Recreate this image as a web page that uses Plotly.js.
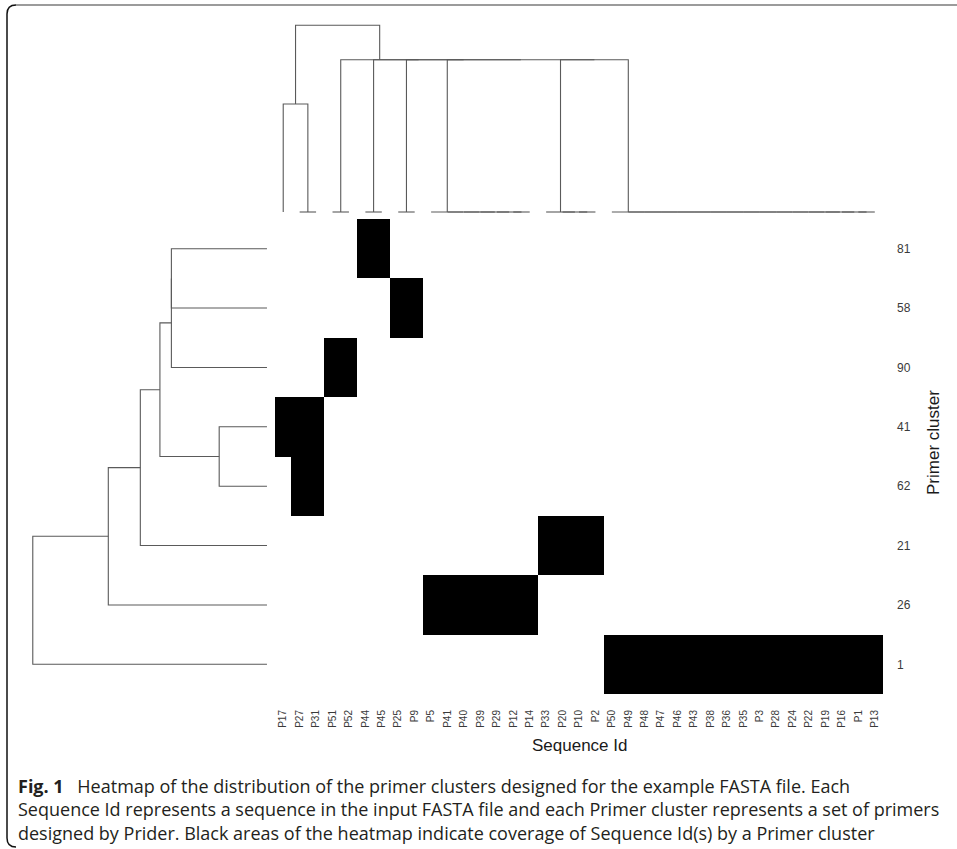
<!DOCTYPE html>
<html>
<head>
<meta charset="utf-8">
<script src="https://cdn.plot.ly/plotly-3.0.1.min.js"></script>
<style>
  html, body { margin: 0; padding: 0; background: #ffffff; }
  #chart { width: 957px; height: 849px; }
</style>
</head>
<body>
<div id="chart"></div>
<script>
// ---------------- DATA ----------------
const sequenceIds = ['P17','P27','P31','P51','P52','P44','P45','P25','P9','P5','P41','P40','P39','P29','P12','P14','P33','P20','P10','P2',
  'P50','P49','P48','P47','P46','P43','P38','P36','P35','P3','P28','P24','P22','P19','P16','P1','P13'];
const primerClusters = ['81','58','90','41','62','21','26','1'];

// Sequences covered by each primer cluster (black cells)
const cov81 = ['P44','P45'];
const cov58 = ['P25','P9'];
const cov90 = ['P51','P52'];
const cov41 = ['P17','P27','P31'];
const cov62 = ['P27','P31'];
const cov21 = ['P33','P20','P10','P2'];
const cov26 = ['P5','P41','P40','P39','P29','P12','P14'];
const cov1  = ['P50','P49','P48','P47','P46','P43','P38','P36','P35','P3','P28','P24','P22','P19','P16','P1','P13'];
const coverageRows = [cov81, cov58, cov90, cov41, cov62, cov21, cov26, cov1];

// Row dendrogram (primer clusters): merge k joins left[k] and right[k] at height[k]; 'mK' = result of merge K
const rowLinkLeft   = ['81','m0','41','m1','m3','m4','m5'];
const rowLinkRight  = ['58','90','62','m2','21','26','1'];
const rowLinkHeight = [2.00, 2.00, 1.00, 2.24, 2.65, 3.32, 4.90];

// Column dendrogram (sequence ids)
const colLinkLeft  = ['P27','P17','P51','P44','P25','P12','P29','P39','P40','P41','P5','P10','P20','P33',
  'P1','P16','P19','P22','P24','P28','P3','P35','P36','P38','P43','P46','P47','P48','P49','P50',
  'm13','m10','m4','m3','m2','m1'];
const colLinkRight = ['P31','m0','P52','P45','P9','P14','m5','m6','m7','m8','m9','P2','m11','m12',
  'P13','m14','m15','m16','m17','m18','m19','m20','m21','m22','m23','m24','m25','m26','m27','m28',
  'm29','m30','m31','m32','m33','m34'];
const colLinkHeight = [0, 1.00, 0, 0, 0, 0, 0, 0, 0, 0, 0, 0, 0, 0,
  0, 0, 0, 0, 0, 0, 0, 0, 0, 0, 0, 0, 0, 0, 0, 0,
  1.41, 1.41, 1.41, 1.41, 1.41, 1.73];

// Caption lines
const captionLines = [
  '<b>Fig. 1</b>\u2002 Heatmap of the distribution of the primer clusters designed for the example FASTA file. Each',
  'Sequence Id represents a sequence in the input FASTA file and each Primer cluster represents a set of primers',
  'designed by Prider. Black areas of the heatmap indicate coverage of Sequence Id(s) by a Primer cluster'
];

// ---------------- BUILD ----------------
const W = 957, H = 849;
const px = v => v / W;
const py = v => 1 - v / H;
const SANS = '"Liberation Sans", Arial, Helvetica, sans-serif';
const CAPTION = '"Open Sans", "Noto Sans", sans-serif';

const z = coverageRows.map(row => sequenceIds.map(s => row.includes(s) ? 1 : 0));

function buildDendro(leaves, left, right, height) {
  const pos = {}, hgt = {};
  leaves.forEach((l, i) => { pos[l] = i; hgt[l] = 0; });
  const p = [], h = [];
  for (let k = 0; k < left.length; k++) {
    const a = left[k], b = right[k], hk = height[k];
    p.push(pos[a], pos[a], pos[b], pos[b], null);
    h.push(hgt[a], hk, hk, hgt[b], null);
    pos['m' + k] = (pos[a] + pos[b]) / 2;
    hgt['m' + k] = hk;
  }
  return { p, h };
}

const colD = buildDendro(sequenceIds, colLinkLeft, colLinkRight, colLinkHeight);
const rowD = buildDendro(primerClusters, rowLinkLeft, rowLinkRight, rowLinkHeight);

const lineStyle = { color: '#5a5a5a', width: 1.1 };

const traces = [
  {
    type: 'heatmap',
    z: z,
    x: sequenceIds.map((_, i) => i),
    y: primerClusters.map((_, i) => i),
    colorscale: [[0, '#ffffff'], [1, '#000000']],
    zmin: 0, zmax: 1,
    showscale: false,
    xaxis: 'x', yaxis: 'y',
    hoverinfo: 'skip'
  },
  {
    type: 'scatter', mode: 'lines',
    x: colD.p, y: colD.h,
    line: lineStyle, xaxis: 'x', yaxis: 'y3',
    hoverinfo: 'skip', showlegend: false
  },
  {
    type: 'scatter', mode: 'lines',
    x: rowD.h, y: rowD.p,
    line: lineStyle, xaxis: 'x2', yaxis: 'y',
    hoverinfo: 'skip', showlegend: false
  }
];

const hidden = { showgrid: false, zeroline: false, showline: false, showticklabels: false, ticks: '' };

const layout = {
  width: W, height: H,
  margin: { l: 0, r: 0, t: 0, b: 0 },
  paper_bgcolor: '#ffffff', plot_bgcolor: 'rgba(0,0,0,0)',
  showlegend: false,
  font: { family: SANS },
  xaxis: {
    domain: [px(275), px(883)], range: [-0.5, sequenceIds.length - 0.5],
    anchor: 'y',
    tickmode: 'array', tickvals: sequenceIds.map((_, i) => i), ticktext: sequenceIds,
    tickangle: -90, ticks: '', ticklabelstandoff: 13,
    tickfont: { family: SANS, size: 10, color: '#3a3a3a' },
    showgrid: false, zeroline: false, showline: false, fixedrange: true
  },
  yaxis: {
    domain: [py(694), py(219)], range: [primerClusters.length - 0.5, -0.5],
    anchor: 'x', side: 'right',
    tickmode: 'array', tickvals: primerClusters.map((_, i) => i), ticktext: primerClusters,
    ticks: '', ticklabelstandoff: 13,
    tickfont: { family: SANS, size: 12, color: '#3a3a3a' },
    showgrid: false, zeroline: false, showline: false, fixedrange: true
  },
  xaxis2: Object.assign({ domain: [px(28), px(272)], range: [5.0, -0.105], anchor: 'y' }, hidden),
  yaxis3: Object.assign({ domain: [py(216), py(20)], range: [-0.037, 1.778], anchor: 'x' }, hidden),
  annotations: [
    { text: 'Sequence Id', xref: 'paper', yref: 'paper', x: px(579), y: py(745),
      xanchor: 'center', yanchor: 'middle', showarrow: false,
      font: { family: SANS, size: 17, color: '#1a1a1a' } },
    { text: 'Primer cluster', xref: 'paper', yref: 'paper', x: px(933), y: py(443),
      xanchor: 'center', yanchor: 'middle', textangle: -90, showarrow: false,
      font: { family: SANS, size: 17, color: '#1a1a1a' } },
    { text: captionLines.join('<br>'),
      xref: 'paper', yref: 'paper', x: px(16), y: py(809), xanchor: 'left', yanchor: 'middle',
      align: 'left', showarrow: false,
      font: { family: CAPTION, size: 18, color: '#231f20' } }
  ],
  shapes: [
    { type: 'path', xref: 'paper', yref: 'paper',
      path: `M ${px(957)},${py(5)} L ${px(16)},${py(5)}`,
      line: { color: '#7a7a7a', width: 1.5 } },
    { type: 'path', xref: 'paper', yref: 'paper',
      path: `M ${px(16)},${py(5)} Q ${px(7)},${py(5)} ${px(7)},${py(14)} L ${px(7)},${py(838)} Q ${px(7)},${py(847)} ${px(16)},${py(847)}`,
      line: { color: '#111111', width: 1.5 } }
  ]
};

Plotly.newPlot('chart', traces, layout, { staticPlot: true, displayModeBar: false });
</script>
</body>
</html>
